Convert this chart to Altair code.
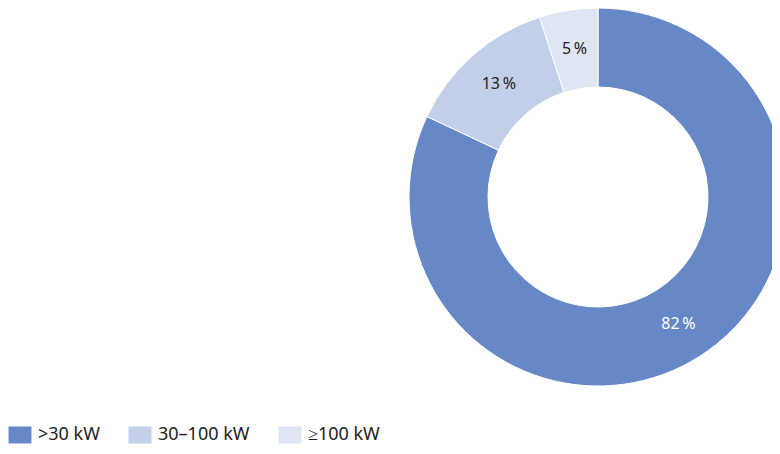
import altair as alt
import pandas as pd

categories = [">30 kW", "30–100 kW", "≥100 kW"]
shares = [82, 13, 5]
labels = ["82\u2009%", "13\u2009%", "5\u2009%"]
order = [0, 1, 2]
colors = ["#6688C6", "#C1CFE9", "#DFE5F2"]

df = pd.DataFrame({"category": categories, "share": shares, "label": labels, "order": order})

FONT = "Noto Sans"

base = alt.Chart(df).encode(
    theta=alt.Theta("share:Q", stack=True),
    order=alt.Order("order:Q"),
)

arc = base.mark_arc(innerRadius=110, outerRadius=189, stroke="white", strokeWidth=1).encode(
    x=alt.value(590),
    y=alt.value(189),
    color=alt.Color(
        "category:N",
        scale=alt.Scale(domain=categories, range=colors),
        sort=categories,
        legend=alt.Legend(
            orient="none",
            legendX=3,
            legendY=418,
            direction="horizontal",
            title=None,
            symbolType="M-1.35,-1H1.35V1H-1.35Z",
            symbolSize=289,
            symbolStrokeWidth=0,
            labelFontSize=18,
            labelFont=FONT,
            labelColor="#222222",
            labelOffset=9,
            columnPadding=28,
            padding=0,
        ),
    ),
)

text = base.mark_text(radius=150, fontSize=16, font=FONT).encode(
    x=alt.value(590),
    y=alt.value(189),
    text="label:N",
    color=alt.condition(alt.datum.order == 0, alt.value("white"), alt.value("#222222")),
)

chart = (
    alt.layer(arc, text)
    .properties(width=764, height=438, autosize=alt.AutoSizeParams(type="none"), padding=0)
    .configure_view(stroke=None)
)

chart.save("out.html", embed_options={"renderer": "svg", "actions": False})
